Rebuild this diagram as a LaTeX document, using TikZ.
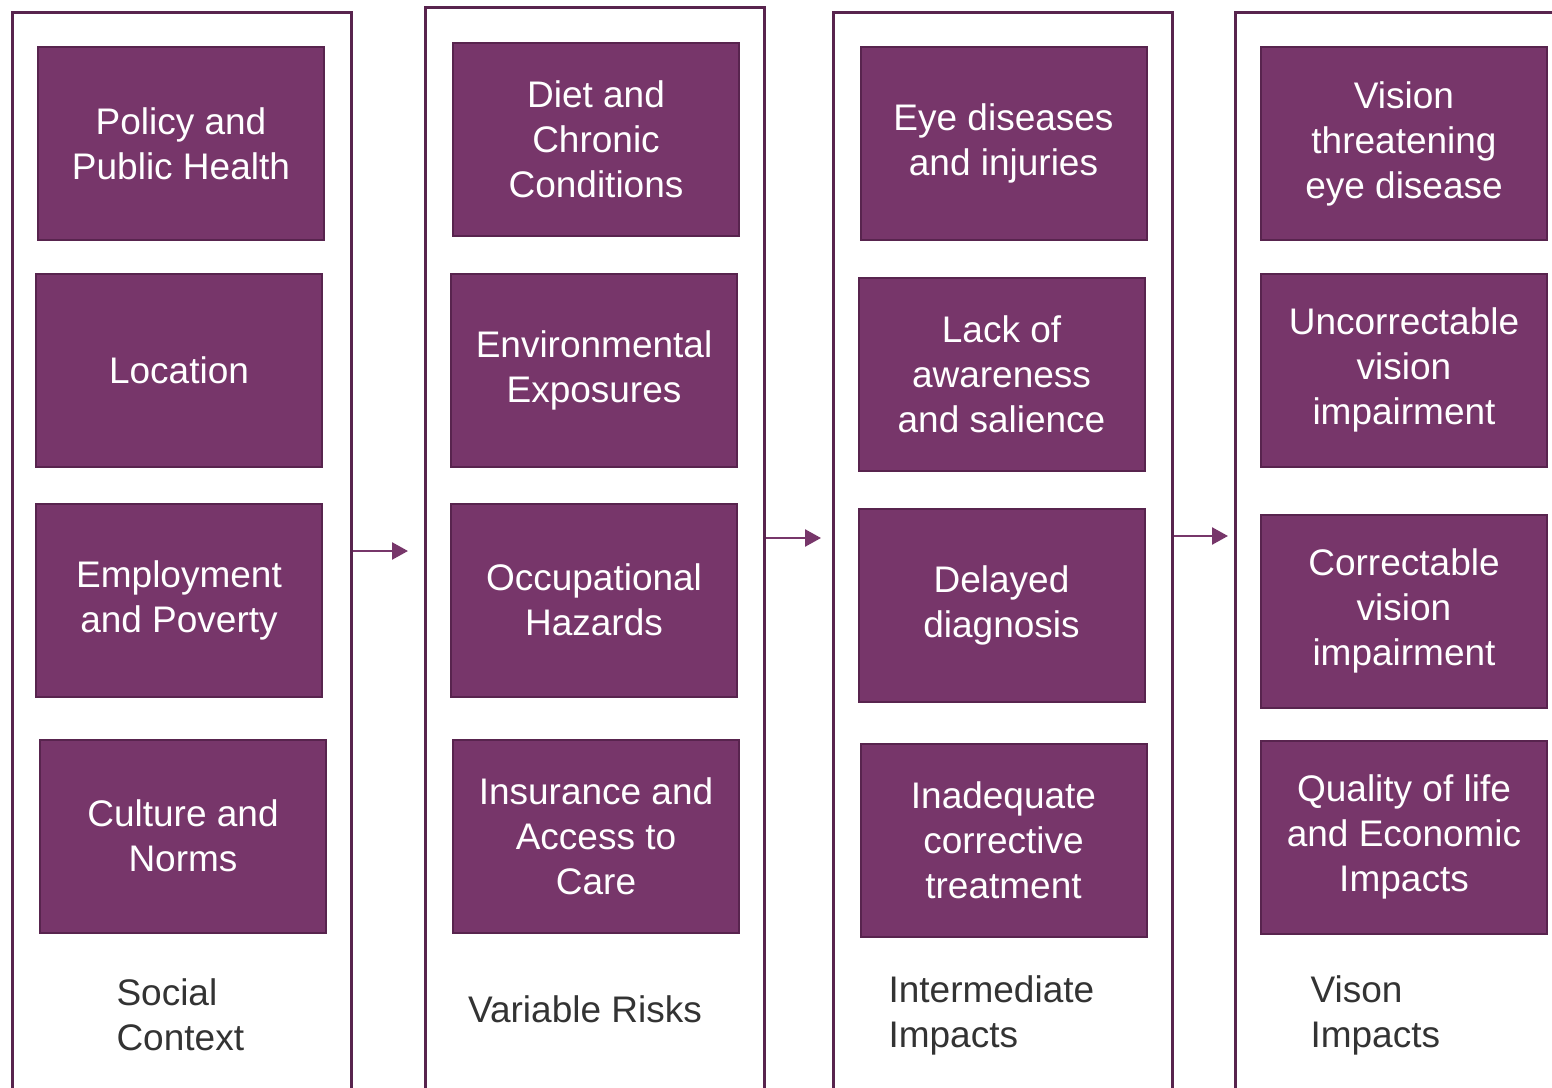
\documentclass[tikz,border=0pt]{standalone}
\usepackage{fontspec}
\setmainfont{Liberation Sans}
\usetikzlibrary{arrows.meta,positioning}

\definecolor{plum}{RGB}{119,54,106}
\definecolor{plumdark}{RGB}{88,36,78}
\definecolor{labelgray}{RGB}{51,51,51}

\tikzset{
  factor/.style={draw=plumdark, line width=2pt, fill=plum, text=white,
    minimum width=286pt, minimum height=193pt, align=center,
    font=\fontsize{37}{45}\selectfont},
  column/.style={draw=plumdark, line width=2.5pt, minimum width=339pt,
    minimum height=1100pt, anchor=north west},
  stage/.style={text=labelgray, align=left, anchor=west,
    font=\fontsize{37}{45}\selectfont},
  flow/.style={draw=plum, line width=2.5pt, -{Triangle[length=16pt,width=17pt]}}
}

\begin{document}
\begin{tikzpicture}[x=1pt,y=-1pt]
    \useasboundingbox (0,0) rectangle (1552,1087);
    \clip (0,0) rectangle (1552,1087);

    % frames
    \node[column] (social) at (11,11) {};
    \node[column] (variable) at (424,6) {};
    \node[column] (intermediate) at (832,11) {};
    \node[column] (vision) at (1234,11) {};

    % social context
    \node[factor] (policy) at (181,143.5) {Policy and\\Public Health};
    \node[factor] (location) at (179,370) {Location};
    \node[factor] (employment) at (179,600) {Employment\\and Poverty};
    \node[factor] (culture) at (183,836) {Culture and\\Norms};
    \node[stage] at (113,1015) {Social\\Context};

    % variable risks
    \node[factor] (diet) at (596,139.5) {Diet and\\Chronic\\Conditions};
    \node[factor] (environment) at (594,370) {Environmental\\Exposures};
    \node[factor] (occupation) at (594,600) {Occupational\\Hazards};
    \node[factor] (insurance) at (596,836) {Insurance and\\Access to\\Care};
    \node[stage, anchor=center] at (585,1009) {Variable Risks};

    % intermediate impacts
    \node[factor] (disease) at (1003.5,143.5) {Eye diseases\\and injuries};
    \node[factor] (awareness) at (1001.5,374) {Lack of\\awareness\\and salience};
    \node[factor] (delayed) at (1001.5,605) {Delayed\\diagnosis};
    \node[factor] (treatment) at (1003.5,840) {Inadequate\\corrective\\treatment};
    \node[stage] at (885,1015) {Intermediate\\Impacts};

    % vision impacts
    \node[factor] (threatening) at (1404,143.5) {Vision\\threatening\\eye disease};
    \node[factor] (uncorrectable) at (1404,370) {Uncorrectable\\vision\\impairment};
    \node[factor] (correctable) at (1404,611) {Correctable\\vision\\impairment};
    \node[factor] (quality) at (1404,837) {Quality of life\\and Economic\\Impacts};
    \node[stage] at (1307,1015) {Vison\\Impacts};

    % flow between stages
    \coordinate (a1) at (408,551);
    \coordinate (a2) at (821,538);
    \coordinate (a3) at (1228,536);
    \draw[flow] (social.east |- a1) -- (a1);
    \draw[flow] (variable.east |- a2) -- (a2);
    \draw[flow] (intermediate.east |- a3) -- (a3);
\end{tikzpicture}
\end{document}
